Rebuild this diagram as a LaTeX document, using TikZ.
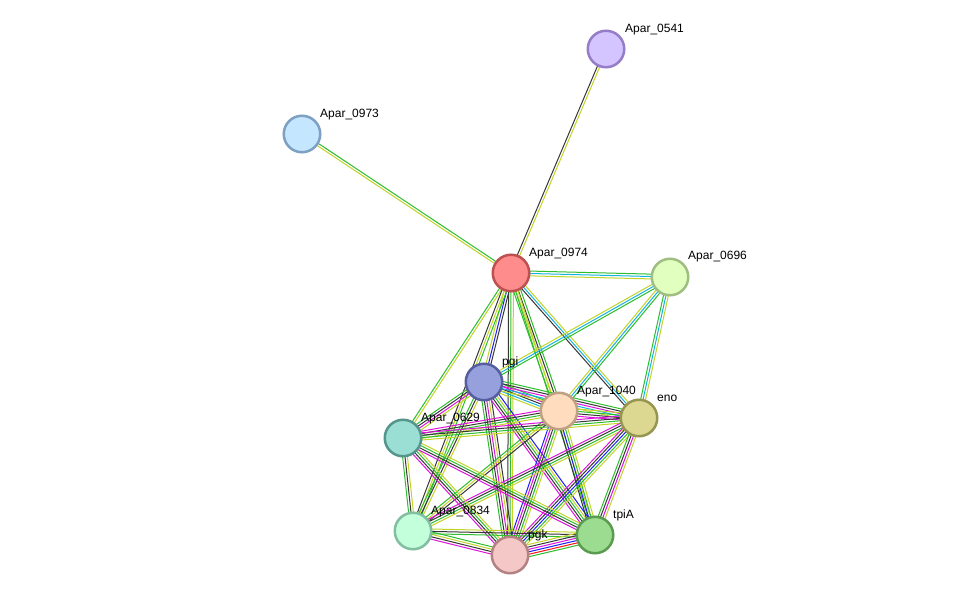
\documentclass[tikz,border=0pt]{standalone}
\usepackage{fontspec}
\setmainfont{Liberation Sans}
\usetikzlibrary{calc}
\pgfdeclarelayer{bg}
\pgfsetlayers{bg,main}
\definecolor{cg}{RGB}{45,190,45}
\definecolor{cy}{RGB}{195,212,40}
\definecolor{ck}{RGB}{55,55,55}
\definecolor{cb}{RGB}{30,30,250}
\definecolor{cm}{RGB}{220,20,220}
\definecolor{cc}{RGB}{20,180,225}
\definecolor{cr}{RGB}{250,20,20}
% node colours
\definecolor{f0541}{RGB}{212,196,255}\definecolor{b0541}{RGB}{150,125,200}
\definecolor{f0973}{RGB}{196,230,255}\definecolor{b0973}{RGB}{125,160,195}
\definecolor{f0974}{RGB}{255,140,140}\definecolor{b0974}{RGB}{190,80,80}
\definecolor{f0696}{RGB}{225,255,190}\definecolor{b0696}{RGB}{160,190,130}
\definecolor{fpgi}{RGB}{150,160,220}\definecolor{bpgi}{RGB}{85,95,160}
\definecolor{f1040}{RGB}{255,220,190}\definecolor{b1040}{RGB}{190,160,130}
\definecolor{feno}{RGB}{220,215,145}\definecolor{beno}{RGB}{150,150,80}
\definecolor{f0629}{RGB}{155,222,212}\definecolor{b0629}{RGB}{85,150,140}
\definecolor{f0834}{RGB}{196,255,220}\definecolor{b0834}{RGB}{130,190,160}
\definecolor{fpgk}{RGB}{245,200,200}\definecolor{bpgk}{RGB}{180,130,130}
\definecolor{ftpiA}{RGB}{155,220,145}\definecolor{btpiA}{RGB}{90,155,80}
\newcommand\medge[3]{%
  \foreach \cc [count=\n] in {#3} {\xdef\ecount{\n}}%
  \foreach \cc [count=\i] in {#3} {%
    \pgfmathsetmacro\off{(\i-(\ecount+1)/2)*2.4}%
    \draw[edgeline,color=\cc] ($(#1.center)!\off pt!90:(#2.center)$) -- ($(#2.center)!\off pt!-90:(#1.center)$);%
  }%
}
\tikzset{
  prot/.style={circle,draw=b#1,fill=f#1,line width=2.5pt,minimum size=36.5pt,inner sep=0pt},
  edgeline/.style={line width=1pt},
  lbl/.style={anchor=west,font=\fontsize{12}{14}\selectfont,text=black,inner sep=0pt}
}
\begin{document}
\begin{tikzpicture}[x=1pt,y=-1pt]
\useasboundingbox (0,0) rectangle (976,601);
% nodes
\node[prot=0541] (a0541) at (606,49) {};
\node[prot=0973] (a0973) at (302,134) {};
\node[prot=0974] (a0974) at (511,273) {};
\node[prot=0696] (a0696) at (670,277) {};
\node[prot=pgi] (pgi) at (484,382) {};
\node[prot=1040] (a1040) at (559,411) {};
\node[prot=eno] (eno) at (639,418) {};
\node[prot=0629] (a0629) at (403,438) {};
\node[prot=0834] (a0834) at (413,531) {};
\node[prot=pgk] (pgk) at (510,555) {};
\node[prot=tpiA] (tpiA) at (595,535) {};
% labels
\node[lbl] (l0541) at (625,29.5) {Apar\_0541};
\node[lbl] (l0973) at (320,114.5) {Apar\_0973};
\node[lbl] (l0974) at (529,253.5) {Apar\_0974};
\node[lbl] (l0696) at (688,256.5) {Apar\_0696};
\node[lbl] (lpgi) at (502,362.5) {pgi};
\node[lbl] (l1040) at (577,391.5) {Apar\_1040};
\node[lbl] (leno) at (657,398.5) {eno};
\node[lbl] (l0629) at (421,418.5) {Apar\_0629};
\node[lbl] (l0834) at (431,511.5) {Apar\_0834};
\node[lbl] (lpgk) at (528,535.5) {pgk};
\node[lbl] (ltpiA) at (613,515.5) {tpiA};
% edges
\begin{pgfonlayer}{bg}
\fill[white] (0,0) rectangle (976,601);
\medge{a0974}{a0973}{cg,cy}
\medge{a0974}{a0541}{cy,ck}
\medge{a0974}{a0696}{cy,cc,cg}
\medge{a0974}{pgi}{cy,cb,ck}
\medge{a0974}{a0629}{cg,cy}
\medge{a0974}{a0834}{ck,cy,cg}
\medge{a0974}{pgk}{ck,cg,cy}
\medge{a0974}{a1040}{cg,cy,ck,cg}
\medge{a0974}{eno}{ck,cc,cy}
\medge{a0974}{tpiA}{cg,cy}
\medge{a0696}{pgi}{cy,cc,cg}
\medge{a0696}{a1040}{cy,cc,cg}
\medge{a0696}{eno}{cg,cc,cy}
\medge{pgi}{a1040}{cy,cc,ck,cm,cg}
\medge{pgi}{eno}{cy,cc,cm,ck,cg}
\medge{pgi}{a0629}{cg,ck,cm,cy}
\medge{pgi}{a0834}{cg,ck,cy}
\medge{pgi}{pgk}{cg,ck,cm,cy,ck}
\medge{pgi}{tpiA}{cm,ck,cg,cy,cb}
\medge{a1040}{eno}{cm,ck,cg,cy}
\medge{a1040}{a0629}{cm,ck,cg,cy}
\medge{a1040}{a0834}{cg,cy,ck}
\medge{a1040}{pgk}{cb,cm,ck,cg,cy}
\medge{a1040}{tpiA}{ck,cb,cg,cy}
\medge{eno}{a0629}{cm,ck,cg,cy}
\medge{eno}{a0834}{cm,ck,cg,cy}
\medge{eno}{pgk}{cm,ck,cb,cg,cy}
\medge{eno}{tpiA}{cg,ck,cm,cy}
\medge{a0629}{a0834}{cg,ck,cy}
\medge{a0629}{pgk}{cm,ck,cg,cy}
\medge{a0629}{tpiA}{cm,ck,cg,cy}
\medge{a0834}{pgk}{cm,ck,cy,cg}
\medge{a0834}{tpiA}{cg,ck,cy}
\medge{pgk}{tpiA}{cg,cr,cb,cm,ck,cy}
\end{pgfonlayer}
\end{tikzpicture}
\end{document}
